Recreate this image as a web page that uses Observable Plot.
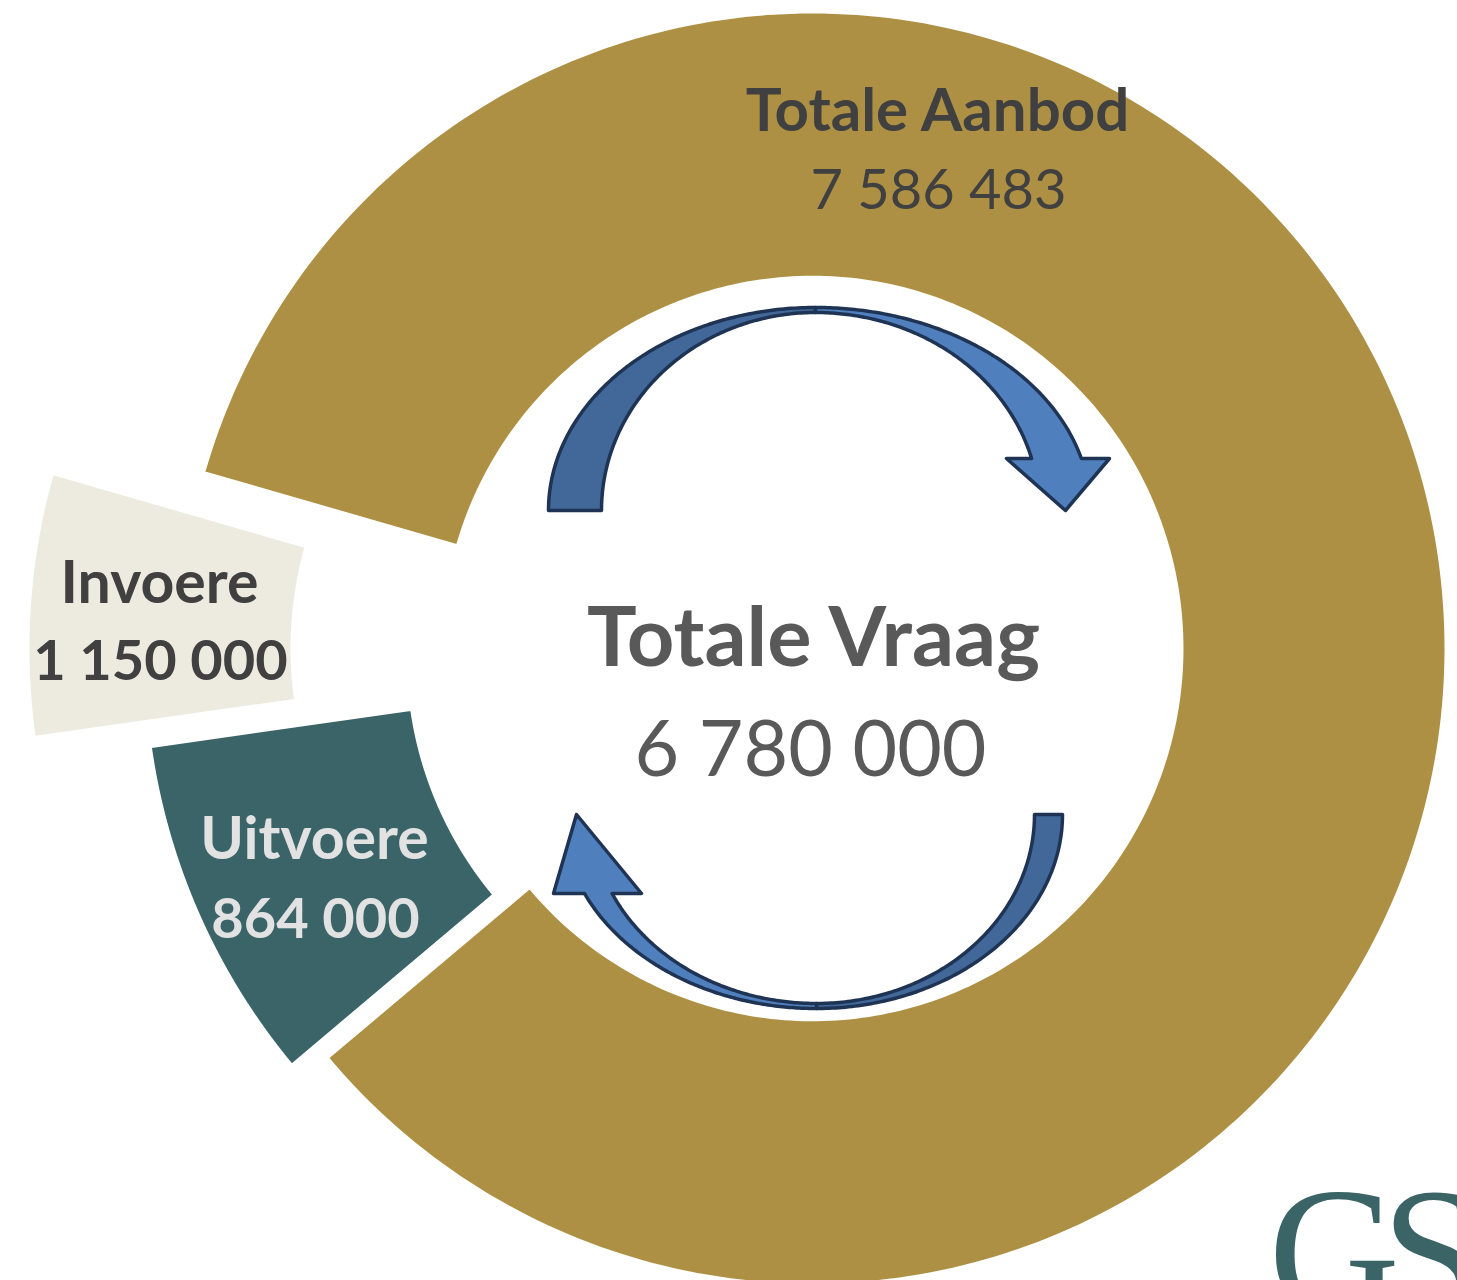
<!DOCTYPE html>
<html>
<head>
<meta charset="utf-8">
<script src="https://cdn.jsdelivr.net/npm/d3@7"></script>
<script src="https://cdn.jsdelivr.net/npm/@observablehq/plot@0.6"></script>
<style>
  html, body { margin: 0; padding: 0; background: #ffffff; overflow: hidden; }
  #chart svg { display: block; }
</style>
</head>
<body>
<div id="chart"></div>
<script>
// ---------------- data ----------------
const sliceNames  = ["Totale Aanbod", "Invoere", "Uitvoere"];
const sliceLabels = ["7 586 483", "1 150 000", "864 000"];
const sliceShare  = [84.44, 6.69, 8.86];          // share of the ring as drawn (%)
const sliceColors = ["#AD9043", "#EDEBE0", "#3A6467"];
const centerTitle = "Totale Vraag";
const centerValue = "6 780 000";
const logoText    = "GS";

// ---------------- layout ----------------
const W = 1457, H = 1280;
const CX = 812, CY = 648;            // ring centre (px)
const RX = 634, RY = 637;            // outer radii (px)
const INNER = 0.582;                 // inner radius / outer radius
const START_DEG = 286;               // clockwise from 12 o'clock
const drawOrder = [0, 2, 1];         // clockwise order of slices
const explode = {                    // [distance px, direction deg]
  "Totale Aanbod": [0, 78],
  "Invoere": [151, 270],
  "Uitvoere": [36, 257]
};
const rad = d => d * Math.PI / 180;

// ring slices through d3.pie
const pie = d3.pie().sort(null).value(d => d.share)
  .startAngle(rad(START_DEG)).endAngle(rad(START_DEG) + 2 * Math.PI);
const arcs = pie(drawOrder.map(i => ({name: sliceNames[i], share: sliceShare[i]})));
const slicePts = [];
for (const a of arcs) {
  const [d, th] = explode[a.data.name];
  const ox = d * Math.sin(rad(th)), oy = -d * Math.cos(rad(th));
  const n = 300;
  for (let k = 0; k <= n; k++) {
    const t = a.startAngle + (a.endAngle - a.startAngle) * k / n;
    slicePts.push({name: a.data.name, x: ox + RX * Math.sin(t), y: oy - RY * Math.cos(t)});
  }
  for (let k = n; k >= 0; k--) {
    const t = a.startAngle + (a.endAngle - a.startAngle) * k / n;
    slicePts.push({name: a.data.name, x: ox + INNER * RX * Math.sin(t), y: oy - INNER * RY * Math.cos(t)});
  }
}

// decorative curved arrows (page px, converted to ring-centred units)
function ell(cx, cy, rx, ry, p0, p1, n = 120) {
  const out = [];
  for (let k = 0; k <= n; k++) {
    const p = rad(p0 + (p1 - p0) * k / n);
    out.push([cx + rx * Math.cos(p), cy - ry * Math.sin(p)]);
  }
  return out;
}
function arrowShapes(id, A) {
  const back = [...ell(A.cx, A.cy, ...A.backOuter, A.backFrom, A.backTo),
                ...ell(A.cx, A.cy, ...A.backInner, A.backTo, A.backFrom)];
  const so = (A.cy - A.baseY) / A.frontOuter[1];
  const si = (A.cy - A.baseY) / A.frontInner[1];
  const po = A.side > 0 ? Math.asin(so) * 180 / Math.PI : -180 - Math.asin(so) * 180 / Math.PI;
  const pi = A.side > 0 ? Math.asin(si) * 180 / Math.PI : -180 - Math.asin(si) * 180 / Math.PI;
  const front = [...ell(A.cx, A.cy, ...A.frontOuter, A.frontFrom, po),
                 ...A.head,
                 ...ell(A.cx, A.cy, ...A.frontInner, pi, A.frontFrom)];
  const conv = ([x, y]) => ({id, x: x - CX, y: y - CY});
  return {back: back.map(conv), front: front.map(conv)};
}
const topArrow = arrowShapes("top", {
  cx: 815, cy: 510, side: 1,
  backOuter: [267, 203], backInner: [214, 198], backFrom: 180, backTo: 90,
  frontOuter: [275, 203], frontInner: [224, 198], frontFrom: 90,
  baseY: 458, head: [[1109, 458], [1065, 510], [1006, 458]]
});
const botArrow = arrowShapes("bottom", {
  cx: 816, cy: 814, side: -1,
  backOuter: [246, 194], backInner: [218, 189], backFrom: 0, backTo: -90,
  frontOuter: [254, 194], frontInner: [225, 189], frontFrom: -90,
  baseY: 893, head: [[553, 893], [576, 814], [641, 893]]
});

// text layout (page px, baseline)
const FONT = "Lato, 'Open Sans', sans-serif";
const texts = [
  {text: sliceNames[0],  x: 937, y: 130, size: 60, weight: 700, color: "#404040"},
  {text: sliceLabels[0], x: 938, y: 208, size: 56, weight: 400, color: "#404040"},
  {text: centerTitle,    x: 813, y: 665, size: 83, weight: 700, color: "#595959"},
  {text: centerValue,    x: 810, y: 775, size: 77, weight: 400, color: "#595959"},
  {text: sliceNames[1],  x: 159, y: 602, size: 59, weight: 700, color: "#404040"},
  {text: sliceLabels[1], x: 160, y: 679, size: 56, weight: 700, color: "#404040"},
  {text: sliceNames[2],  x: 314, y: 858, size: 59, weight: 700, color: "#E2E2E2"},
  {text: sliceLabels[2], x: 315, y: 937, size: 56, weight: 700, color: "#E2E2E2"}
];
// logo letters (page px, baseline, left edge)
const logoPos = [[1268, 1312], [1381, 1312]];

const OUTLINE = "#1F3454";
const marks = [
  Plot.line(slicePts, {x: "x", y: "y", z: "name", fill: "name", stroke: "#ffffff", strokeWidth: 4, curve: "linear-closed"}),
  Plot.line([...topArrow.back, ...botArrow.back], {x: "x", y: "y", z: "id", fill: "#416899", stroke: OUTLINE, strokeWidth: 3.5, strokeLinejoin: "round", curve: "linear-closed"}),
  Plot.line([...topArrow.front, ...botArrow.front], {x: "x", y: "y", z: "id", fill: "#4F80BD", stroke: OUTLINE, strokeWidth: 3.5, strokeLinejoin: "round", curve: "linear-closed"}),
  ...texts.map(t => Plot.text([t], {
    x: d => d.x - CX, y: d => d.y - CY, text: "text",
    fontSize: t.size, fontWeight: t.weight, fill: t.color, fontFamily: FONT,
    textAnchor: "middle", lineAnchor: "bottom"
  })),
  Plot.text(Array.from(logoText).map((ch, i) => ({ch, x: logoPos[i][0], y: logoPos[i][1]})), {
    x: d => d.x - CX, y: d => d.y - CY, text: "ch",
    fontSize: 182, fill: "#3B6467", fontFamily: "'Liberation Serif', 'DejaVu Serif', serif",
    textAnchor: "start", lineAnchor: "bottom"
  })
];

const chart = Plot.plot({
  width: W, height: H,
  margin: 0,
  x: {axis: null, domain: [-CX, W - CX], range: [0, W]},
  y: {axis: null, domain: [-CY, H - CY], range: [0, H]},
  color: {domain: sliceNames, range: sliceColors},
  style: {background: "#ffffff", overflow: "hidden"},
  marks
});
document.getElementById("chart").appendChild(chart);
</script>
</body>
</html>
